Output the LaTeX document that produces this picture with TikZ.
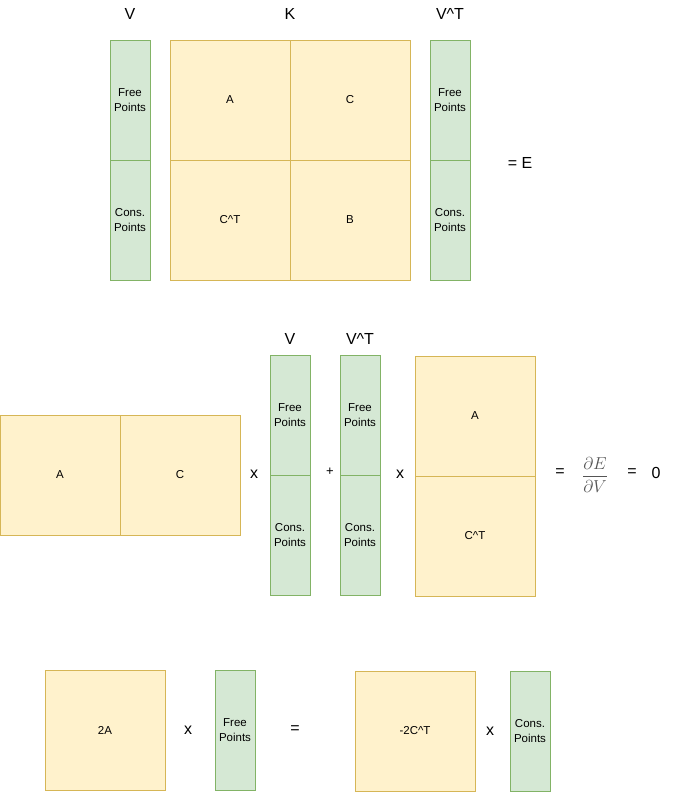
\documentclass[tikz,border=0pt]{standalone}
\usepackage{fontspec}
\setmainfont{Liberation Sans}
\usetikzlibrary{positioning}
\definecolor{vfill}{HTML}{D5E8D4}
\definecolor{vline}{HTML}{82B366}
\definecolor{kfill}{HTML}{FFF2CC}
\definecolor{kline}{HTML}{D6B656}
\definecolor{fracgray}{HTML}{555555}
\tikzset{
  vcell/.style={draw=vline,fill=vfill,minimum width=40pt,minimum height=120pt,inner sep=0pt,outer sep=0pt,align=center,font=\fontsize{11.5}{15}\selectfont},
  kcell/.style={draw=kline,fill=kfill,minimum width=120pt,minimum height=120pt,inner sep=0pt,outer sep=0pt,align=center,font=\fontsize{11.5}{15}\selectfont},
  lbl/.style={inner sep=0pt,font=\fontsize{16}{18}\selectfont},
  op/.style={inner sep=0pt,font=\fontsize{16}{18}\selectfont},
  smallop/.style={inner sep=0pt,font=\fontsize{13}{15}\selectfont}
}
\newcommand{\hatT}{\textasciicircum{}T}
\begin{document}
\begin{tikzpicture}[x=1pt,y=-1pt]
\useasboundingbox (0,0) rectangle (676,792);

% V K V^T = E
\node(lV)[lbl] at (130,14) {V};
\node(lK)[lbl] at (290,14) {K};
\node(lVT)[lbl] at (450,14) {V\hatT};
\node(V1)[vcell] at (130,100) {Free\\Points};
\node(V2)[vcell,below=0pt of V1] {Cons.\\Points};
\node(K11)[kcell] at (230,100) {A};
\node(K12)[kcell,right=0pt of K11] {C};
\node(K21)[kcell,below=0pt of K11] {C\hatT};
\node(K22)[kcell,right=0pt of K21] {B};
\node(VT1)[vcell] at (450,100) {Free\\Points};
\node(VT2)[vcell,below=0pt of VT1] {Cons.\\Points};
\node(eqE)[lbl] at (520,163) {= E};

% [A C] x V + V^T x [A; C^T] = dE/dV = 0
\node(A2)[kcell] at (60,475) {A};
\node(C2)[kcell,right=0pt of A2] {C};
\node(x1)[op] at (254,474) {x};
\node(lV2)[lbl] at (290,339) {V};
\node(W1)[vcell] at (290,415) {Free\\Points};
\node(W2)[vcell,below=0pt of W1] {Cons.\\Points};
\node(plus)[smallop] at (330,472) {+};
\node(lVT2)[lbl] at (360,339) {V\hatT};
\node(WT1)[vcell] at (360,415) {Free\\Points};
\node(WT2)[vcell,below=0pt of WT1] {Cons.\\Points};
\node(x2)[op] at (400,474) {x};
\node(A3)[kcell] at (475,416) {A};
\node(CT3)[kcell,below=0pt of A3] {C\hatT};
\node(eq1)[op] at (560,473) {=};
\node(dEdV)[inner sep=0pt,text=fracgray,font=\fontsize{17}{19}\selectfont] at (595,475) {$\displaystyle\frac{\partial E}{\partial V}$};
\node(eq2)[op] at (632,473) {=};
\node(zero)[op] at (656,473) {0};

% 2A x Free = -2C^T x Cons.
\node(A4)[kcell] at (105,730) {2A};
\node(x3)[op] at (188,730) {x};
\node(F4)[vcell] at (235,730) {Free\\Points};
\node(eq3)[op] at (295,730) {=};
\node(CT4)[kcell] at (415,731) {-2C\hatT};
\node(x4)[op] at (490,731) {x};
\node(P4)[vcell] at (530,731) {Cons.\\Points};
\end{tikzpicture}
\end{document}
